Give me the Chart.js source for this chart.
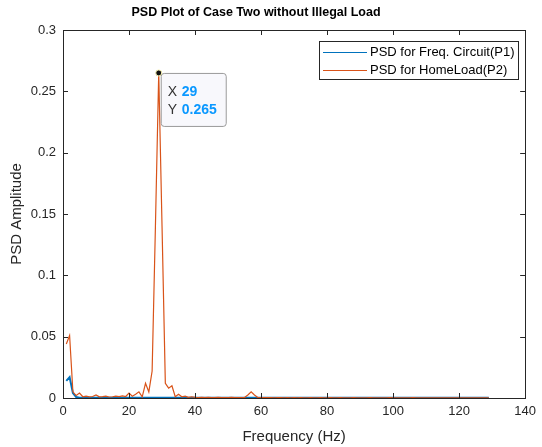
<!DOCTYPE html>
<html>
<head>
<meta charset="utf-8">
<script src="https://cdn.jsdelivr.net/npm/chart.js@4.4.0/dist/chart.umd.min.js"></script>
<style>
  html, body { margin: 0; padding: 0; background: #fff; }
</style>
</head>
<body>
<canvas id="myChart" width="542" height="447"></canvas>
<script>
// tick labels
const xTicks = [0, 20, 40, 60, 80, 100, 120, 140];
const yTicks = [0, 0.05, 0.1, 0.15, 0.2, 0.25, 0.3];

// PSD for HomeLoad (P2), one value per Hz starting at 1 Hz
const p2Values = [
  0.044, 0.051, 0.005, 0.002, 0.004, 0.001, 0.0015, 0.001, 0.0012, 0.0025,
  0.001, 0.0012, 0.0015, 0.0008, 0.001, 0.0015, 0.0012, 0.0018, 0.0012, 0.004,
  0.0015, 0.003, 0.005, 0.001, 0.012, 0.005, 0.022, 0.14, 0.265, 0.14,
  0.012, 0.008, 0.010, 0.001, 0.003, 0.001, 0.0015, 0.0005, 0.001, 0.0005,
  0.0004, 0.0006, 0.0003, 0.0005, 0.0004, 0.0003, 0.0005, 0.0004, 0.0003, 0.0004,
  0.0005, 0.0003, 0.0004, 0.0003, 0.0004, 0.0025, 0.005, 0.0025, 0.0004, 0.0003,
  0.0003, 0.0004, 0.0003, 0.0002, 0.0003, 0.0003, 0.0002, 0.0003, 0.0002, 0.0003,
  0.0002, 0.0003, 0.0002, 0.0002, 0.0003, 0.0002, 0.0002, 0.0003, 0.0002, 0.0002,
  0.0003, 0.0002, 0.0002, 0.0003, 0.0002, 0.0002, 0.0002, 0.0003, 0.0002, 0.0002,
  0.0002, 0.0002, 0.0003, 0.0002, 0.0002, 0.0002, 0.0002, 0.0002, 0.0003, 0.0002,
  0.0002, 0.0002, 0.0002, 0.0002, 0.0002, 0.0003, 0.0002, 0.0002, 0.0002, 0.0002,
  0.0002, 0.0002, 0.0002, 0.0002, 0.0002, 0.0002, 0.0002, 0.0002, 0.0002, 0.0002,
  0.0002, 0.0002, 0.0002, 0.0002, 0.0002, 0.0002, 0.0002, 0.0002, 0.0002
];

// PSD for Freq. Circuit (P1)
const p1Values = [
  0.014, 0.017, 0.004, 0.0008, 0.0003, 0.0002, 0.0002, 0.0002, 0.0002, 0.0002,
  0.0002, 0.0002, 0.0002, 0.0002, 0.0002, 0.0002, 0.0002, 0.0002, 0.0002, 0.0002,
  0.0002, 0.0002, 0.0002, 0.0002, 0.0002, 0.0002, 0.0002, 0.0002, 0.0002, 0.0002,
  0.0002, 0.0002, 0.0002, 0.0002, 0.0002, 0.0002, 0.0002, 0.0002, 0.0002, 0.0002,
  0.0002, 0.0002, 0.0002, 0.0002, 0.0003, 0.0002, 0.0002, 0.0002, 0.0002, 0.0003,
  0.0002, 0.0002, 0.0002, 0.0002, 0.0002, 0.0002, 0.0002, 0.0002, 0.0002, 0.0002,
  0.0002, 0.0002, 0.0002, 0.0002, 0.0002, 0.0002, 0.0002, 0.0002, 0.0002, 0.0002,
  0.0002, 0.0002, 0.0002, 0.0002, 0.0002, 0.0002, 0.0002, 0.0002, 0.0002, 0.0002,
  0.0002, 0.0002, 0.0002, 0.0003, 0.0002, 0.0002, 0.0002, 0.0002, 0.0002, 0.0002,
  0.0002, 0.0002, 0.0002, 0.0002, 0.0002, 0.0002, 0.0002, 0.0002, 0.0002, 0.0002,
  0.0002, 0.0002, 0.0002, 0.0002, 0.0002, 0.0002, 0.0002, 0.0002, 0.0002, 0.0002,
  0.0002, 0.0002, 0.0002, 0.0002, 0.0002, 0.0002, 0.0002, 0.0002, 0.0002, 0.0002,
  0.0002, 0.0002, 0.0002, 0.0002, 0.0002, 0.0002, 0.0002, 0.0002, 0.0002
];

const freqs = p2Values.map((v, i) => i + 1);

const seriesNames = ['PSD for Freq. Circuit(P1)', 'PSD for HomeLoad(P2)'];
const seriesColors = ['#0072BD', '#D95319'];
const tipFreq = 29;
const tipValue = 0.265;

const FONT = 'Liberation Sans, Arial, Helvetica, sans-serif';
const AXIS_COLOR = '#262626';

// Cadre, graduations intérieures, titres, légende et datatip façon MATLAB
const matlabDecor = {
  id: 'matlabDecor',
  afterDraw(chart) {
    const ctx = chart.ctx;
    const a = chart.chartArea;
    const xs = chart.scales.x, ys = chart.scales.y;
    ctx.save();

    // box
    ctx.strokeStyle = AXIS_COLOR;
    ctx.lineWidth = 1;
    ctx.strokeRect(Math.round(a.left) + 0.5, Math.round(a.top) + 0.5,
      Math.round(a.right - a.left), Math.round(a.bottom - a.top));

    // inward ticks
    ctx.beginPath();
    xTicks.forEach(t => {
      const px = Math.round(xs.getPixelForValue(t)) + 0.5;
      ctx.moveTo(px, a.bottom); ctx.lineTo(px, a.bottom - 5);
      ctx.moveTo(px, a.top); ctx.lineTo(px, a.top + 5);
    });
    yTicks.forEach(t => {
      const py = Math.round(ys.getPixelForValue(t)) + 0.5;
      ctx.moveTo(a.left, py); ctx.lineTo(a.left + 5, py);
      ctx.moveTo(a.right, py); ctx.lineTo(a.right - 5, py);
    });
    ctx.stroke();

    // title
    ctx.fillStyle = '#000';
    ctx.textAlign = 'center';
    ctx.textBaseline = 'middle';
    ctx.font = 'bold 12.5px ' + FONT;
    ctx.fillText('PSD Plot of Case Two without Illegal Load', 256, 13);

    // axis titles
    ctx.fillStyle = AXIS_COLOR;
    ctx.font = '15px ' + FONT;
    ctx.fillText('Frequency (Hz)', (a.left + a.right) / 2, 437);
    ctx.save();
    ctx.translate(17, (a.top + a.bottom) / 2);
    ctx.rotate(-Math.PI / 2);
    ctx.fillText('PSD Amplitude', 0, 0);
    ctx.restore();

    // legend
    ctx.fillStyle = '#fff';
    ctx.fillRect(319.5, 41.5, 199, 38);
    ctx.strokeStyle = AXIS_COLOR;
    ctx.strokeRect(319.5, 41.5, 199, 38);
    ctx.font = '13px ' + FONT;
    ctx.textAlign = 'left';
    seriesNames.forEach((name, i) => {
      const ly = 52.5 + i * 18;
      ctx.strokeStyle = seriesColors[i];
      ctx.beginPath();
      ctx.moveTo(323, ly); ctx.lineTo(367, ly);
      ctx.stroke();
      ctx.fillStyle = '#000';
      ctx.fillText(name, 370, ly);
    });

    // datatip
    const px = xs.getPixelForValue(tipFreq);
    const py = ys.getPixelForValue(tipValue);
    const bx = px + 2, by = py, bw = 65, bh = 53;
    ctx.fillStyle = '#F8F8FC';
    ctx.strokeStyle = '#9A9A9A';
    ctx.beginPath();
    ctx.roundRect(bx + 0.5, by + 0.5, bw, bh, 3);
    ctx.fill();
    ctx.stroke();
    ctx.font = '14px ' + FONT;
    ctx.fillStyle = '#333';
    ctx.fillText('X', bx + 7, by + 19);
    ctx.fillText('Y', bx + 7, by + 37);
    ctx.font = 'bold 14px ' + FONT;
    ctx.fillStyle = '#0A98FF';
    ctx.fillText(String(tipFreq), bx + 21, by + 19);
    ctx.fillText(String(tipValue), bx + 21, by + 37);

    // marker
    ctx.fillStyle = '#111';
    ctx.strokeStyle = '#F5F0B0';
    ctx.lineWidth = 1;
    ctx.beginPath();
    ctx.arc(px, py, 3, 0, Math.PI * 2);
    ctx.fill();
    ctx.stroke();

    ctx.restore();
  }
};

const ctx = document.getElementById('myChart').getContext('2d');
new Chart(ctx, {
  type: 'line',
  data: {
    datasets: [
      {
        label: seriesNames[1],
        data: freqs.map((f, i) => ({ x: f, y: p2Values[i] })),
        borderColor: seriesColors[1],
        borderWidth: 1.2,
        pointRadius: 0,
        tension: 0,
        order: 1
      },
      {
        label: seriesNames[0],
        data: freqs.map((f, i) => ({ x: f, y: p1Values[i] })),
        borderColor: seriesColors[0],
        borderWidth: 2,
        pointRadius: 0,
        tension: 0,
        order: 2
      }
    ]
  },
  options: {
    responsive: false,
    animation: false,
    layout: { padding: { top: 30, right: 12, left: 0, bottom: 0 } },
    plugins: {
      legend: { display: false },
      tooltip: { enabled: false },
      title: { display: false }
    },
    scales: {
      x: {
        type: 'linear',
        min: 0,
        max: 140,
        afterBuildTicks: s => { s.ticks = xTicks.map(v => ({ value: v })); },
        afterFit: s => { s.height = 49; },
        grid: { display: false, drawTicks: false },
        border: { display: false },
        ticks: {
          padding: 6,
          color: AXIS_COLOR,
          font: { family: FONT, size: 13 },
          maxRotation: 0,
          callback: v => String(v)
        }
      },
      y: {
        type: 'linear',
        min: 0,
        max: 0.3,
        afterBuildTicks: s => { s.ticks = yTicks.map(v => ({ value: v })); },
        afterFit: s => { s.width = 63; },
        grid: { display: false, drawTicks: false },
        border: { display: false },
        ticks: {
          padding: 7,
          color: AXIS_COLOR,
          font: { family: FONT, size: 13 },
          callback: v => String(+v.toFixed(2))
        }
      }
    }
  },
  plugins: [matlabDecor]
});
</script>
</body>
</html>
